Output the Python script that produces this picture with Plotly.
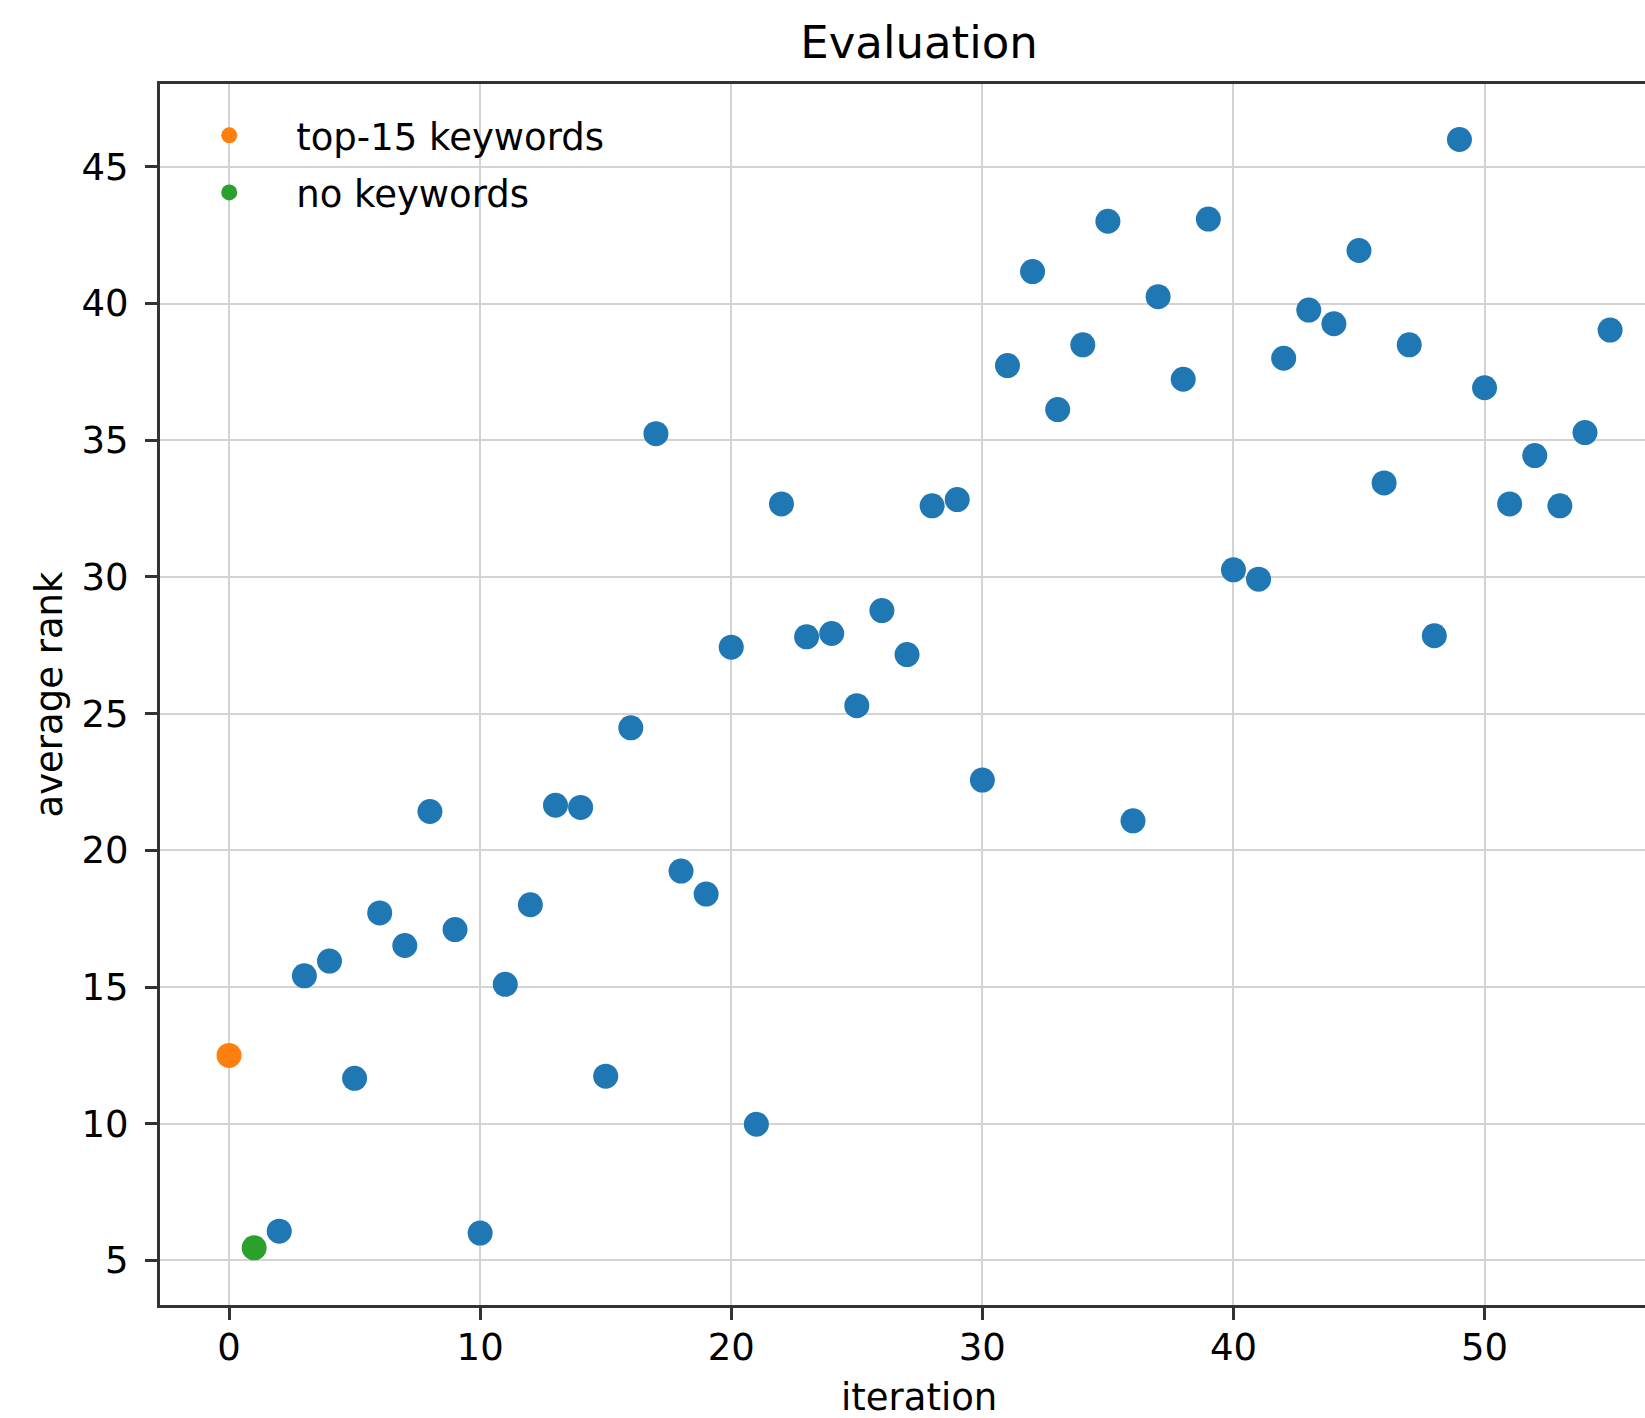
import plotly.graph_objects as go

# Data
blue_iter = list(range(2, 56))
blue_rank = [6.07, 15.41, 15.95, 11.66, 17.71, 16.52, 21.42, 17.1, 6.0, 15.1,
             18.01, 21.65, 21.57, 11.74, 24.48, 35.24, 19.24, 18.4, 27.43, 9.98,
             32.67, 27.81, 27.93, 25.29, 28.77, 27.16, 32.6, 32.83, 22.57, 37.73,
             41.17, 36.12, 38.49, 43.01, 21.08, 40.25, 37.23, 43.09, 30.26, 29.92,
             38.0, 39.76, 39.26, 41.94, 33.44, 38.49, 27.85, 46.0, 36.92, 32.67,
             34.44, 32.6, 35.28, 39.03]
top15_iter = [0]
top15_rank = [12.5]
nokw_iter = [1]
nokw_rank = [5.46]

x_ticks = [0, 10, 20, 30, 40, 50]
y_ticks = [5, 10, 15, 20, 25, 30, 35, 40, 45]

FONT = "DejaVu Sans"
MS = 25

fig = go.Figure()
fig.add_trace(go.Scatter(x=blue_iter, y=blue_rank, mode="markers",
                         marker=dict(color="#1f77b4", size=MS), showlegend=False))
fig.add_trace(go.Scatter(x=top15_iter, y=top15_rank, mode="markers", name="top-15 keywords",
                         marker=dict(color="#ff7f0e", size=MS), legendgroup="a"))
fig.add_trace(go.Scatter(x=nokw_iter, y=nokw_rank, mode="markers", name="no keywords",
                         marker=dict(color="#2ca02c", size=MS), legendgroup="b"))

axis_common = dict(
    showgrid=True, gridcolor="#d3d3d3", gridwidth=2,
    showline=True, linecolor="#333333", linewidth=3,
    ticks="outside", ticklen=12, tickwidth=3, tickcolor="#333333",
    tickfont=dict(family=FONT, size=37, color="black"),
    zeroline=False,
)

fig.update_layout(
    width=1645, height=1418,
    margin=dict(l=160, r=0, t=84, b=113),
    paper_bgcolor="white", plot_bgcolor="white",
    font=dict(family=FONT, color="black"),
    title=dict(text="Evaluation", x=919 / 1645, xanchor="center", xref="container",
               y=1 - 42 / 1418, yanchor="middle", yref="container",
               font=dict(family=FONT, size=45, color="black")),
    xaxis=dict(range=[-2.75, 56.39], tickvals=x_ticks, mirror=True,
               ticklabelstandoff=-4, **axis_common),
    yaxis=dict(range=[3.37, 48.03], tickvals=y_ticks,
               title=dict(text="average rank", font=dict(family=FONT, size=37), standoff=8),
               ticklabelstandoff=9, **axis_common),
    legend=dict(x=0.0015, xanchor="left", y=0.983, yanchor="top",
                bgcolor="rgba(0,0,0,0)", borderwidth=0,
                font=dict(family=FONT, size=37, color="black"),
                itemwidth=124, tracegroupgap=6),
    annotations=[dict(text="iteration", xref="paper", yref="paper",
                      x=(919 - 160) / 1485, y=-(1397 - 1305) / 1221,
                      xanchor="center", yanchor="middle", showarrow=False,
                      font=dict(family=FONT, size=37, color="black"))],
)

fig.write_html("out.html",
               config={"displayModeBar": False},
               post_script="document.body.style.margin='0';document.body.style.overflow='hidden';")
